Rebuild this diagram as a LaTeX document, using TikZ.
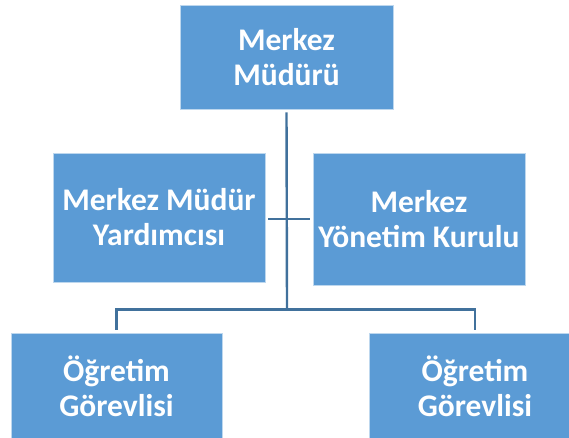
\documentclass[tikz,border=0pt]{standalone}
\usepackage{fontspec}
\setmainfont{Carlito}
\definecolor{boxblue}{HTML}{5B9BD5}
\definecolor{lineblue}{HTML}{41719C}
\begin{document}
\begin{tikzpicture}[x=1pt,y=-1pt,
  orgbox/.style={rectangle, fill=boxblue, draw=boxblue!40!white, line width=0.6pt,
    text=white, font=\fontsize{31.5}{35}\selectfont\bfseries, align=center, inner sep=0pt},
  conn/.style={draw=lineblue, line width=2.4pt, shorten <=3pt, shorten >=3pt}]
\useasboundingbox (0,0) rectangle (569,437);
\clip (0,0) rectangle (569,437);
\node[orgbox, minimum width=213pt, minimum height=104pt] (top) at (286.5,57) {Merkez\\Müdürü};
\node[orgbox, minimum width=212pt, minimum height=129pt] (ml) at (159,217.5) {Merkez Müdür\\Yardımcısı};
\node[orgbox, minimum width=212pt, minimum height=132pt] (mr) at (419,219) {Merkez\\Yönetim Kurulu};
\node[orgbox, minimum width=211pt, minimum height=106pt] (bl) at (116.5,386) {Öğretim\\Görevlisi};
\node[orgbox, minimum width=212pt, minimum height=106pt] (br) at (475,386) {Öğretim\\Görevlisi};
\coordinate (j) at (287,309.5);
\coordinate (hm) at (287,219);
\draw[conn, shorten >=0pt] (top.south) -- (j);
\draw[conn] (ml.east |- hm) -- (mr.west |- hm);
\draw[conn] (bl.north) |- (j) -| (br.north);
\end{tikzpicture}
\end{document}
